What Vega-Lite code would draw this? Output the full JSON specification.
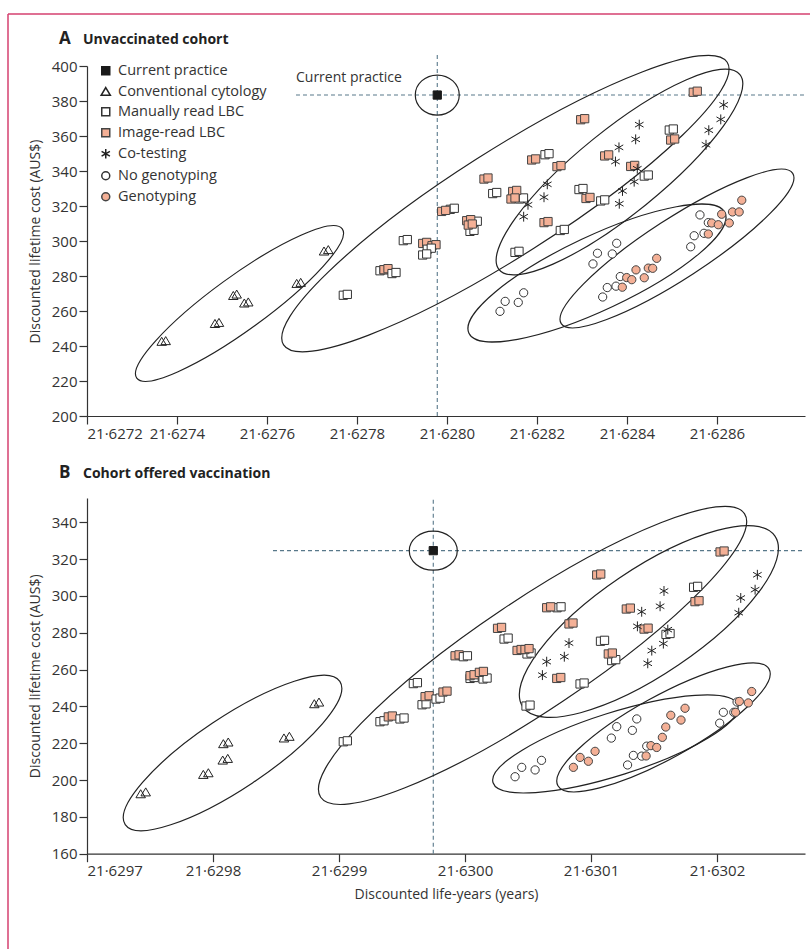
{
"$schema":"https://vega.github.io/schema/vega-lite/v6.json",
"padding":{"left":7,"top":13,"right":0,"bottom":0},
"bounds":"flush",
"spacing":82,
"config":{
"font":"Open Sans",
"view":{"stroke":null},
"axis":{"labelFont":"Open Sans","labelFontSize":15,"labelColor":"#333","titleFont":"Open Sans","titleFontSize":14,"titleFontWeight":"normal","titleColor":"#333","domainColor":"#333","tickColor":"#333","domainWidth":1.2,"tickWidth":1.2,"tickSize":8,"grid":false,"labelPadding":2}
},
"datasets":{
"ellA":[
{"g":"cp","x":21.6279784,"y":383.4},{"g":"cyt","x":21.6275389,"y":264.3},{"g":"lbc","x":21.6281298,"y":321.4},{"g":"cot","x":21.6283833,"y":339.4},{"g":"ng","x":21.6283333,"y":281.7},{"g":"gt","x":21.6285111,"y":295.7}],
"ellB":[
{"g":"cp","x":21.6299748,"y":324.6},{"g":"cyt","x":21.6298155,"y":214.7},{"g":"lbc","x":21.6300536,"y":267.7},{"g":"cot","x":21.6301459,"y":286.1},{"g":"ng","x":21.6301193,"y":219.6},{"g":"gt","x":21.6301575,"y":228.6}],
"labA":[{"label":"Current practice","x":21.6276644,"y":383.4}],
"ptsA":[
{"s":"Conventional cytology","x":21.627366,"y":242.5},{"s":"Conventional cytology","x":21.6273749,"y":242.9},
{"s":"Conventional cytology","x":21.6274844,"y":252.7},{"s":"Conventional cytology","x":21.6274933,"y":253.3},
{"s":"Conventional cytology","x":21.6275251,"y":268.7},{"s":"Conventional cytology","x":21.6275327,"y":269.5},
{"s":"Conventional cytology","x":21.6275496,"y":264.4},{"s":"Conventional cytology","x":21.6275584,"y":265.0},
{"s":"Conventional cytology","x":21.627666,"y":275.6},{"s":"Conventional cytology","x":21.6276749,"y":276.2},
{"s":"Conventional cytology","x":21.6277267,"y":294.1},{"s":"Conventional cytology","x":21.6277362,"y":294.9},
{"s":"Manually read LBC","x":21.6277696,"y":269.0},{"s":"Manually read LBC","x":21.6277785,"y":269.5},
{"s":"Manually read LBC","x":21.6278511,"y":283.0},{"s":"Manually read LBC","x":21.62786,"y":283.6},
{"s":"Image-read LBC","x":21.62786,"y":283.6},{"s":"Image-read LBC","x":21.6278689,"y":284.2},
{"s":"Manually read LBC","x":21.6278778,"y":281.4},{"s":"Manually read LBC","x":21.6278867,"y":282.0},
{"s":"Manually read LBC","x":21.6279029,"y":300.2},{"s":"Manually read LBC","x":21.6279118,"y":300.8},
{"s":"Image-read LBC","x":21.627946,"y":298.6},{"s":"Image-read LBC","x":21.6279549,"y":299.2},
{"s":"Image-read LBC","x":21.6279667,"y":297.3},{"s":"Image-read LBC","x":21.6279756,"y":297.9},
{"s":"Manually read LBC","x":21.6279562,"y":295.3},{"s":"Manually read LBC","x":21.6279651,"y":295.9},
{"s":"Manually read LBC","x":21.627946,"y":292.0},{"s":"Manually read LBC","x":21.6279549,"y":292.6},
{"s":"Manually read LBC","x":21.6280073,"y":318.1},{"s":"Manually read LBC","x":21.6280162,"y":318.7},
{"s":"Image-read LBC","x":21.6279882,"y":316.9},{"s":"Image-read LBC","x":21.6279971,"y":317.5},
{"s":"Manually read LBC","x":21.6280584,"y":310.7},{"s":"Manually read LBC","x":21.6280673,"y":311.3},
{"s":"Manually read LBC","x":21.6280511,"y":305.5},{"s":"Manually read LBC","x":21.62806,"y":306.1},
{"s":"Image-read LBC","x":21.6280438,"y":311.6},{"s":"Image-read LBC","x":21.6280527,"y":312.2},
{"s":"Image-read LBC","x":21.6280473,"y":309.1},{"s":"Image-read LBC","x":21.6280562,"y":309.7},
{"s":"Image-read LBC","x":21.6280822,"y":335.4},{"s":"Image-read LBC","x":21.6280911,"y":336.0},
{"s":"Manually read LBC","x":21.6281016,"y":327.1},{"s":"Manually read LBC","x":21.6281105,"y":327.7},
{"s":"Manually read LBC","x":21.6281611,"y":324.0},{"s":"Manually read LBC","x":21.62817,"y":324.6},
{"s":"Image-read LBC","x":21.628146,"y":328.3},{"s":"Image-read LBC","x":21.6281549,"y":328.9},
{"s":"Image-read LBC","x":21.6281422,"y":324.0},{"s":"Image-read LBC","x":21.6281511,"y":324.6},
{"s":"Manually read LBC","x":21.6282178,"y":349.3},{"s":"Manually read LBC","x":21.6282267,"y":349.9},
{"s":"Image-read LBC","x":21.6281882,"y":346.3},{"s":"Image-read LBC","x":21.6281971,"y":346.9},
{"s":"Image-read LBC","x":21.6282444,"y":342.5},{"s":"Image-read LBC","x":21.6282533,"y":343.1},
{"s":"Image-read LBC","x":21.6282971,"y":369.3},{"s":"Image-read LBC","x":21.628306,"y":369.9},
{"s":"Manually read LBC","x":21.6282933,"y":329.4},{"s":"Manually read LBC","x":21.6283022,"y":330.0},
{"s":"Image-read LBC","x":21.6283089,"y":324.3},{"s":"Image-read LBC","x":21.6283178,"y":324.9},
{"s":"Manually read LBC","x":21.6283416,"y":322.9},{"s":"Manually read LBC","x":21.6283505,"y":323.5},
{"s":"Image-read LBC","x":21.6282156,"y":310.5},{"s":"Image-read LBC","x":21.6282245,"y":311.1},
{"s":"Manually read LBC","x":21.6282518,"y":306.0},{"s":"Manually read LBC","x":21.6282607,"y":306.6},
{"s":"Manually read LBC","x":21.6281511,"y":293.5},{"s":"Manually read LBC","x":21.62816,"y":294.1},
{"s":"Image-read LBC","x":21.6283504,"y":348.6},{"s":"Image-read LBC","x":21.6283593,"y":349.2},
{"s":"Image-read LBC","x":21.6284082,"y":342.6},{"s":"Image-read LBC","x":21.6284171,"y":343.2},
{"s":"Manually read LBC","x":21.6284384,"y":337.1},{"s":"Manually read LBC","x":21.6284473,"y":337.7},
{"s":"Manually read LBC","x":21.628494,"y":363.4},{"s":"Manually read LBC","x":21.6285029,"y":364.0},
{"s":"Image-read LBC","x":21.6284971,"y":357.7},{"s":"Image-read LBC","x":21.628506,"y":358.3},
{"s":"Image-read LBC","x":21.6285473,"y":385.0},{"s":"Image-read LBC","x":21.6285562,"y":385.6},
{"s":"Co-testing","x":21.6284273,"y":366.5},{"s":"Co-testing","x":21.6284193,"y":358.1},
{"s":"Co-testing","x":21.6283822,"y":353.5},{"s":"Co-testing","x":21.6283744,"y":345.4},
{"s":"Co-testing","x":21.6284229,"y":341.3},{"s":"Co-testing","x":21.628416,"y":333.9},
{"s":"Co-testing","x":21.62839,"y":328.6},{"s":"Co-testing","x":21.6283829,"y":321.3},
{"s":"Co-testing","x":21.6282229,"y":332.4},{"s":"Co-testing","x":21.6282156,"y":325.0},
{"s":"Co-testing","x":21.62818,"y":320.7},{"s":"Co-testing","x":21.6281704,"y":313.9},
{"s":"Co-testing","x":21.6286149,"y":377.8},{"s":"Co-testing","x":21.6286084,"y":369.5},
{"s":"Co-testing","x":21.6285818,"y":363.3},{"s":"Co-testing","x":21.6285756,"y":355.0},
{"s":"No genotyping","x":21.6281178,"y":259.8},{"s":"No genotyping","x":21.6281293,"y":265.5},
{"s":"No genotyping","x":21.6281584,"y":264.9},{"s":"No genotyping","x":21.6281704,"y":270.4},
{"s":"No genotyping","x":21.6283244,"y":286.9},{"s":"No genotyping","x":21.6283344,"y":293.0},
{"s":"No genotyping","x":21.6283673,"y":292.6},{"s":"No genotyping","x":21.6283771,"y":298.7},
{"s":"No genotyping","x":21.628346,"y":268.0},{"s":"No genotyping","x":21.6283562,"y":273.4},
{"s":"No genotyping","x":21.6283756,"y":274.2},{"s":"No genotyping","x":21.6283851,"y":279.7},
{"s":"No genotyping","x":21.6285416,"y":296.7},{"s":"No genotyping","x":21.6285493,"y":303.0},
{"s":"No genotyping","x":21.6285711,"y":304.4},{"s":"No genotyping","x":21.6285807,"y":310.5},
{"s":"No genotyping","x":21.6285622,"y":314.9},
{"s":"Genotyping","x":21.6283896,"y":273.6},{"s":"Genotyping","x":21.6283993,"y":279.1},
{"s":"Genotyping","x":21.6284107,"y":277.9},{"s":"Genotyping","x":21.62842,"y":283.5},
{"s":"Genotyping","x":21.6284384,"y":279.0},{"s":"Genotyping","x":21.6284473,"y":284.5},
{"s":"Genotyping","x":21.6284571,"y":284.4},{"s":"Genotyping","x":21.628466,"y":290.1},
{"s":"Genotyping","x":21.6285807,"y":304.0},{"s":"Genotyping","x":21.6285882,"y":310.3},
{"s":"Genotyping","x":21.6286029,"y":309.3},{"s":"Genotyping","x":21.6286104,"y":315.3},
{"s":"Genotyping","x":21.6286273,"y":310.3},{"s":"Genotyping","x":21.6286344,"y":316.6},
{"s":"Genotyping","x":21.6286493,"y":316.6},{"s":"Genotyping","x":21.6286551,"y":323.3},
{"s":"Current practice","x":21.6279784,"y":383.4}
],
"ptsB":[
{"s":"Conventional cytology","x":21.6297426,"y":192.4},{"s":"Conventional cytology","x":21.6297466,"y":193.4},
{"s":"Conventional cytology","x":21.6297923,"y":202.9},{"s":"Conventional cytology","x":21.6297963,"y":203.8},
{"s":"Conventional cytology","x":21.6298077,"y":210.7},{"s":"Conventional cytology","x":21.6298117,"y":211.6},
{"s":"Conventional cytology","x":21.6298082,"y":219.6},{"s":"Conventional cytology","x":21.6298121,"y":220.5},
{"s":"Conventional cytology","x":21.6298563,"y":222.7},{"s":"Conventional cytology","x":21.6298606,"y":223.6},
{"s":"Conventional cytology","x":21.6298804,"y":241.3},{"s":"Conventional cytology","x":21.6298841,"y":242.2},
{"s":"Manually read LBC","x":21.6299034,"y":220.8},{"s":"Manually read LBC","x":21.6299066,"y":221.3},
{"s":"Manually read LBC","x":21.6299325,"y":231.7},{"s":"Manually read LBC","x":21.6299357,"y":232.2},
{"s":"Image-read LBC","x":21.6299391,"y":234.3},{"s":"Image-read LBC","x":21.6299423,"y":234.8},
{"s":"Manually read LBC","x":21.6299484,"y":233.2},{"s":"Manually read LBC","x":21.6299516,"y":233.7},
{"s":"Manually read LBC","x":21.629959,"y":252.4},{"s":"Manually read LBC","x":21.6299622,"y":252.9},
{"s":"Manually read LBC","x":21.6299659,"y":240.9},{"s":"Manually read LBC","x":21.6299691,"y":241.4},
{"s":"Image-read LBC","x":21.6299683,"y":245.3},{"s":"Image-read LBC","x":21.6299715,"y":245.8},
{"s":"Manually read LBC","x":21.629977,"y":244.0},{"s":"Manually read LBC","x":21.6299802,"y":244.5},
{"s":"Image-read LBC","x":21.6299825,"y":247.8},{"s":"Image-read LBC","x":21.6299857,"y":248.3},
{"s":"Image-read LBC","x":21.6299921,"y":267.5},{"s":"Image-read LBC","x":21.6299953,"y":268.0},
{"s":"Manually read LBC","x":21.6299987,"y":267.0},{"s":"Manually read LBC","x":21.6300019,"y":267.5},
{"s":"Manually read LBC","x":21.630004,"y":255.2},{"s":"Manually read LBC","x":21.6300072,"y":255.7},
{"s":"Manually read LBC","x":21.6300143,"y":254.9},{"s":"Manually read LBC","x":21.6300175,"y":255.4},
{"s":"Image-read LBC","x":21.630004,"y":256.7},{"s":"Image-read LBC","x":21.6300072,"y":257.2},
{"s":"Image-read LBC","x":21.6300114,"y":258.5},{"s":"Image-read LBC","x":21.6300146,"y":259.0},
{"s":"Manually read LBC","x":21.630031,"y":276.6},{"s":"Manually read LBC","x":21.6300342,"y":277.1},
{"s":"Image-read LBC","x":21.6300258,"y":282.4},{"s":"Image-read LBC","x":21.630029,"y":282.9},
{"s":"Manually read LBC","x":21.6300492,"y":268.5},{"s":"Manually read LBC","x":21.6300524,"y":269.0},
{"s":"Image-read LBC","x":21.6300413,"y":270.4},{"s":"Image-read LBC","x":21.6300445,"y":270.9},
{"s":"Image-read LBC","x":21.6300476,"y":270.9},{"s":"Image-read LBC","x":21.6300508,"y":271.4},
{"s":"Manually read LBC","x":21.630073,"y":293.6},{"s":"Manually read LBC","x":21.6300762,"y":294.1},
{"s":"Image-read LBC","x":21.6300648,"y":293.6},{"s":"Image-read LBC","x":21.630068,"y":294.1},
{"s":"Image-read LBC","x":21.6300825,"y":284.8},{"s":"Image-read LBC","x":21.6300857,"y":285.3},
{"s":"Image-read LBC","x":21.6300728,"y":255.2},{"s":"Image-read LBC","x":21.630076,"y":255.7},
{"s":"Manually read LBC","x":21.6300484,"y":240.2},{"s":"Manually read LBC","x":21.6300516,"y":240.7},
{"s":"Manually read LBC","x":21.6300913,"y":252.2},{"s":"Manually read LBC","x":21.6300945,"y":252.7},
{"s":"Image-read LBC","x":21.6301045,"y":311.4},{"s":"Image-read LBC","x":21.6301077,"y":311.9},
{"s":"Image-read LBC","x":21.630128,"y":292.9},{"s":"Image-read LBC","x":21.6301312,"y":293.4},
{"s":"Image-read LBC","x":21.6301421,"y":282.0},{"s":"Image-read LBC","x":21.6301453,"y":282.5},
{"s":"Manually read LBC","x":21.6301075,"y":275.4},{"s":"Manually read LBC","x":21.6301107,"y":275.9},
{"s":"Manually read LBC","x":21.6301164,"y":264.9},{"s":"Manually read LBC","x":21.6301196,"y":265.4},
{"s":"Image-read LBC","x":21.6301137,"y":268.5},{"s":"Image-read LBC","x":21.6301169,"y":269.0},
{"s":"Manually read LBC","x":21.6301814,"y":304.7},{"s":"Manually read LBC","x":21.6301846,"y":305.2},
{"s":"Image-read LBC","x":21.6301825,"y":296.9},{"s":"Image-read LBC","x":21.6301857,"y":297.4},
{"s":"Manually read LBC","x":21.6301595,"y":279.1},{"s":"Manually read LBC","x":21.6301627,"y":279.6},
{"s":"Image-read LBC","x":21.6302024,"y":323.9},{"s":"Image-read LBC","x":21.6302056,"y":324.4},
{"s":"Co-testing","x":21.6300825,"y":274.4},{"s":"Co-testing","x":21.6300788,"y":267.0},
{"s":"Co-testing","x":21.6300648,"y":264.3},{"s":"Co-testing","x":21.6300614,"y":257.0},
{"s":"Co-testing","x":21.6301402,"y":291.4},{"s":"Co-testing","x":21.6301368,"y":283.5},
{"s":"Co-testing","x":21.6301579,"y":302.7},{"s":"Co-testing","x":21.6301548,"y":294.4},
{"s":"Co-testing","x":21.6301609,"y":281.7},{"s":"Co-testing","x":21.6301574,"y":274.1},
{"s":"Co-testing","x":21.6301482,"y":270.3},{"s":"Co-testing","x":21.630145,"y":263.4},
{"s":"Co-testing","x":21.630232,"y":311.5},{"s":"Co-testing","x":21.6302302,"y":303.4},
{"s":"Co-testing","x":21.6302188,"y":298.9},{"s":"Co-testing","x":21.6302172,"y":290.9},
{"s":"No genotyping","x":21.6300397,"y":201.8},{"s":"No genotyping","x":21.630045,"y":206.9},
{"s":"No genotyping","x":21.6300556,"y":205.5},{"s":"No genotyping","x":21.6300607,"y":210.7},
{"s":"No genotyping","x":21.6301161,"y":222.8},{"s":"No genotyping","x":21.6301204,"y":229.0},
{"s":"No genotyping","x":21.6301328,"y":227.0},{"s":"No genotyping","x":21.6301363,"y":233.2},
{"s":"No genotyping","x":21.630129,"y":208.2},{"s":"No genotyping","x":21.6301336,"y":213.4},
{"s":"No genotyping","x":21.6301402,"y":213.0},{"s":"No genotyping","x":21.6301442,"y":218.4},
{"s":"No genotyping","x":21.6302021,"y":230.9},{"s":"No genotyping","x":21.630205,"y":236.8},
{"s":"No genotyping","x":21.6302133,"y":236.8},{"s":"No genotyping","x":21.6302159,"y":242.4},
{"s":"Genotyping","x":21.630086,"y":206.9},{"s":"Genotyping","x":21.6300913,"y":212.3},
{"s":"Genotyping","x":21.6300979,"y":210.2},{"s":"Genotyping","x":21.6301032,"y":215.6},
{"s":"Genotyping","x":21.6301437,"y":213.1},{"s":"Genotyping","x":21.6301475,"y":218.7},
{"s":"Genotyping","x":21.6301521,"y":217.7},{"s":"Genotyping","x":21.6301566,"y":223.2},
{"s":"Genotyping","x":21.6301593,"y":228.8},{"s":"Genotyping","x":21.6301633,"y":235.2},
{"s":"Genotyping","x":21.6301714,"y":232.6},{"s":"Genotyping","x":21.6301746,"y":239.0},
{"s":"Genotyping","x":21.6302147,"y":236.8},{"s":"Genotyping","x":21.6302177,"y":242.7},
{"s":"Genotyping","x":21.6302248,"y":241.9},{"s":"Genotyping","x":21.6302275,"y":248.1},
{"s":"Current practice","x":21.6299748,"y":324.6}
]
},
"vconcat":[
{
"width":718,"height":350,
"layer":[
{"data":{"values":[{}]},"mark":{"type":"rule","color":"#d4416f","strokeWidth":1.5},
"encoding":{"x":{"datum":21.62702444,"type":"quantitative","scale":{"domain":[21.6272,21.6287956]},"axis":{"title":null,"values":[21.6272,21.6274,21.6276,21.6278,21.628,21.6282,21.6284,21.6286],"labelExpr":"replace(format(datum.value,'.4f'),'.','·')"}},"y":{"datum":429.71,"type":"quantitative","scale":{"domain":[200,400]},"axis":{"title":"Discounted lifetime cost (AUS$)","titlePadding":9,"values":[200,220,240,260,280,300,320,340,360,380,400]}},"y2":{"datum":-104.57}}},
{"data":{"values":[{}]},"mark":{"type":"rule","color":"#d4416f","strokeWidth":1.5},
"encoding":{"x":{"datum":21.62702444,"type":"quantitative","scale":{"domain":[21.6272,21.6287956]},"axis":{"title":null,"values":[21.6272,21.6274,21.6276,21.6278,21.628,21.6282,21.6284,21.6286],"labelExpr":"replace(format(datum.value,'.4f'),'.','·')"}},"x2":{"datum":21.62880667},"y":{"datum":429.71,"type":"quantitative","scale":{"domain":[200,400]},"axis":{"title":"Discounted lifetime cost (AUS$)","titlePadding":9,"values":[200,220,240,260,280,300,320,340,360,380,400]}}}},
{"data":{"values":[{}]},"mark":{"type":"rule","color":"#58788a","strokeWidth":1.1,"strokeDash":[4,3]},
"encoding":{"x":{"datum":21.6279784,"type":"quantitative","scale":{"domain":[21.6272,21.6287956]},"axis":{"title":null,"values":[21.6272,21.6274,21.6276,21.6278,21.628,21.6282,21.6284,21.6286],"labelExpr":"replace(format(datum.value,'.4f'),'.','·')"}},"y":{"datum":200,"type":"quantitative","scale":{"domain":[200,400]},"axis":{"title":"Discounted lifetime cost (AUS$)","titlePadding":9,"values":[200,220,240,260,280,300,320,340,360,380,400]}},"y2":{"datum":406.9}}},
{"data":{"values":[{}]},"mark":{"type":"rule","color":"#58788a","strokeWidth":1.1,"strokeDash":[4,3]},
"encoding":{"x":{"datum":21.6276644,"type":"quantitative","scale":{"domain":[21.6272,21.6287956]},"axis":{"title":null,"values":[21.6272,21.6274,21.6276,21.6278,21.628,21.6282,21.6284,21.6286],"labelExpr":"replace(format(datum.value,'.4f'),'.','·')"}},"x2":{"datum":21.6287956},"y":{"datum":383.4,"type":"quantitative","scale":{"domain":[200,400]},"axis":{"title":"Discounted lifetime cost (AUS$)","titlePadding":9,"values":[200,220,240,260,280,300,320,340,360,380,400]}}}},
{"data":{"values":[{}]},"mark":{"type":"text","text":"A","align":"left","baseline":"alphabetic","fontSize":17,"fontWeight":"bold","font":"Open Sans","color":"#222"},
"encoding":{"x":{"datum":21.62713778,"type":"quantitative","scale":{"domain":[21.6272,21.6287956]},"axis":{"title":null,"values":[21.6272,21.6274,21.6276,21.6278,21.628,21.6282,21.6284,21.6286],"labelExpr":"replace(format(datum.value,'.4f'),'.','·')"}},"y":{"datum":412.57,"type":"quantitative","scale":{"domain":[200,400]},"axis":{"title":"Discounted lifetime cost (AUS$)","titlePadding":9,"values":[200,220,240,260,280,300,320,340,360,380,400]}}}},
{"data":{"values":[{}]},"mark":{"type":"text","text":"Unvaccinated cohort","align":"left","baseline":"alphabetic","fontSize":14,"fontWeight":"bold","font":"Open Sans","color":"#222"},
"encoding":{"x":{"datum":21.62719111,"type":"quantitative","scale":{"domain":[21.6272,21.6287956]},"axis":{"title":null,"values":[21.6272,21.6274,21.6276,21.6278,21.628,21.6282,21.6284,21.6286],"labelExpr":"replace(format(datum.value,'.4f'),'.','·')"}},"y":{"datum":412.57,"type":"quantitative","scale":{"domain":[200,400]},"axis":{"title":"Discounted lifetime cost (AUS$)","titlePadding":9,"values":[200,220,240,260,280,300,320,340,360,380,400]}}}},
{
"encoding":{
"x":{"field":"x","type":"quantitative","scale":{"domain":[21.6272,21.6287956]},"axis":{"title":null,"values":[21.6272,21.6274,21.6276,21.6278,21.628,21.6282,21.6284,21.6286],"labelExpr":"replace(format(datum.value,'.4f'),'.','·')"}},
"y":{"field":"y","type":"quantitative","scale":{"domain":[200,400]},"axis":{"title":"Discounted lifetime cost (AUS$)","titlePadding":9,"values":[200,220,240,260,280,300,320,340,360,380,400]}}
},
"layer":[
{"data":{"name":"labA"},"mark":{"type":"text","align":"left","baseline":"alphabetic","dy":-13,"fontSize":14,"font":"Open Sans","color":"#333"},
"encoding":{"text":{"field":"label"}}},
{"data":{"name":"ellA"},"transform":[{"filter":"datum.g=='cp'"}],"mark":{"type":"point","shape":"M1,0C1,0.502 0.5523,0.909 0,0.909C-0.5523,0.909 -1,0.502 -1,0C-1,-0.502 -0.5523,-0.909 0,-0.909C0.5523,-0.909 1,-0.502 1,0Z","size":1936,"angle":0,"filled":false,"stroke":"#222","strokeWidth":1.2,"opacity":1}},
{"data":{"name":"ellA"},"transform":[{"filter":"datum.g=='cyt'"}],"mark":{"type":"point","shape":"M1,0C1,0.1174 0.5523,0.2126 0,0.2126C-0.5523,0.2126 -1,0.1174 -1,0C-1,-0.1174 -0.5523,-0.2126 0,-0.2126C0.5523,-0.2126 1,-0.1174 1,0Z","size":64516,"angle":324,"filled":false,"stroke":"#222","strokeWidth":1.2,"opacity":1}},
{"data":{"name":"ellA"},"transform":[{"filter":"datum.g=='lbc'"}],"mark":{"type":"point","shape":"M1,0C1,0.1113 0.5523,0.2015 0,0.2015C-0.5523,0.2015 -1,0.1113 -1,0C-1,-0.1113 -0.5523,-0.2015 0,-0.2015C0.5523,-0.2015 1,-0.1113 1,0Z","size":276676,"angle":327.5,"filled":false,"stroke":"#222","strokeWidth":1.2,"opacity":1}},
{"data":{"name":"ellA"},"transform":[{"filter":"datum.g=='cot'"}],"mark":{"type":"point","shape":"M1,0C1,0.1497 0.5523,0.271 0,0.271C-0.5523,0.271 -1,0.1497 -1,0C-1,-0.1497 -0.5523,-0.271 0,-0.271C0.5523,-0.271 1,-0.1497 1,0Z","size":96100,"angle":321,"filled":false,"stroke":"#222","strokeWidth":1.2,"opacity":1}},
{"data":{"name":"ellA"},"transform":[{"filter":"datum.g=='ng'"}],"mark":{"type":"point","shape":"M1,0C1,0.1444 0.5523,0.2615 0,0.2615C-0.5523,0.2615 -1,0.1444 -1,0C-1,-0.1444 -0.5523,-0.2615 0,-0.2615C0.5523,-0.2615 1,-0.1444 1,0Z","size":80089,"angle":334.8,"filled":false,"stroke":"#222","strokeWidth":1.2,"opacity":1}},
{"data":{"name":"ellA"},"transform":[{"filter":"datum.g=='gt'"}],"mark":{"type":"point","shape":"M1,0C1,0.12 0.5523,0.2174 0,0.2174C-0.5523,0.2174 -1,0.12 -1,0C-1,-0.12 -0.5523,-0.2174 0,-0.2174C0.5523,-0.2174 1,-0.12 1,0Z","size":76176,"angle":327,"filled":false,"stroke":"#222","strokeWidth":1.2,"opacity":1}},
{"data":{"name":"ptsA"},"mark":{"type":"point","filled":true,"opacity":1,"strokeWidth":1,"size":68},
"encoding":{
"shape":{"field":"s","type":"nominal","scale":{"domain":["Current practice","Conventional cytology","Manually read LBC","Image-read LBC","Co-testing","No genotyping","Genotyping"],"range":["square","M0,-1.05L1.15,0.9L-1.15,0.9Z","square","square","M0,-1.2L0,1.2M-1.04,-0.6L1.04,0.6M-1.04,0.6L1.04,-0.6","circle","circle"]},"legend":{"title":null,"orient":"none","legendX":11.5,"legendY":-2.5,"labelFont":"Open Sans","labelFontSize":14.5,"labelColor":"#333","symbolSize":64,"rowPadding":5,"labelOffset":5,"padding":0}},
"fill":{"field":"s","type":"nominal","scale":{"domain":["Current practice","Conventional cytology","Manually read LBC","Image-read LBC","Co-testing","No genotyping","Genotyping"],"range":["#1a1a1a","transparent","#ffffff","#f4b096","transparent","#ffffff","#f4b096"]},"legend":{"title":null,"orient":"none","legendX":11.5,"legendY":-2.5,"labelFont":"Open Sans","labelFontSize":14.5,"labelColor":"#333","symbolSize":64,"rowPadding":5,"labelOffset":5,"padding":0}},
"stroke":{"field":"s","type":"nominal","scale":{"domain":["Current practice","Conventional cytology","Manually read LBC","Image-read LBC","Co-testing","No genotyping","Genotyping"],"range":["#1a1a1a","#222222","#333333","#444444","#222222","#333333","#444444"]},"legend":{"title":null,"orient":"none","legendX":11.5,"legendY":-2.5,"labelFont":"Open Sans","labelFontSize":14.5,"labelColor":"#333","symbolSize":64,"rowPadding":5,"labelOffset":5,"padding":0}}
}}
]}
]
},
{
"width":718,"height":355.7,
"layer":[
{"data":{"values":[{}]},"mark":{"type":"rule","color":"#58788a","strokeWidth":1.1,"strokeDash":[4,3]},
"encoding":{"x":{"datum":21.6299748,"type":"quantitative","scale":{"domain":[21.6297,21.6302698]},"axis":{"title":"Discounted life-years (years)","titlePadding":9,"values":[21.6297,21.6298,21.6299,21.63,21.6301,21.6302],"labelExpr":"replace(format(datum.value,'.4f'),'.','·')"}},"y":{"datum":160,"type":"quantitative","scale":{"domain":[160,353.2]},"axis":{"title":"Discounted lifetime cost (AUS$)","titlePadding":9,"values":[160,180,200,220,240,260,280,300,320,340]}},"y2":{"datum":353.2}}},
{"data":{"values":[{}]},"mark":{"type":"rule","color":"#58788a","strokeWidth":1.1,"strokeDash":[4,3]},
"encoding":{"x":{"datum":21.6298476,"type":"quantitative","scale":{"domain":[21.6297,21.6302698]},"axis":{"title":"Discounted life-years (years)","titlePadding":9,"values":[21.6297,21.6298,21.6299,21.63,21.6301,21.6302],"labelExpr":"replace(format(datum.value,'.4f'),'.','·')"}},"x2":{"datum":21.6302698},"y":{"datum":324.6,"type":"quantitative","scale":{"domain":[160,353.2]},"axis":{"title":"Discounted lifetime cost (AUS$)","titlePadding":9,"values":[160,180,200,220,240,260,280,300,320,340]}}}},
{"data":{"values":[{}]},"mark":{"type":"text","text":"B","align":"left","baseline":"alphabetic","fontSize":17,"fontWeight":"bold","font":"Open Sans","color":"#222"},
"encoding":{"x":{"datum":21.62967778,"type":"quantitative","scale":{"domain":[21.6297,21.6302698]},"axis":{"title":"Discounted life-years (years)","titlePadding":9,"values":[21.6297,21.6298,21.6299,21.63,21.6301,21.6302],"labelExpr":"replace(format(datum.value,'.4f'),'.','·')"}},"y":{"datum":364.07,"type":"quantitative","scale":{"domain":[160,353.2]},"axis":{"title":"Discounted lifetime cost (AUS$)","titlePadding":9,"values":[160,180,200,220,240,260,280,300,320,340]}}}},
{"data":{"values":[{}]},"mark":{"type":"text","text":"Cohort offered vaccination","align":"left","baseline":"alphabetic","fontSize":14,"fontWeight":"bold","font":"Open Sans","color":"#222"},
"encoding":{"x":{"datum":21.62969683,"type":"quantitative","scale":{"domain":[21.6297,21.6302698]},"axis":{"title":"Discounted life-years (years)","titlePadding":9,"values":[21.6297,21.6298,21.6299,21.63,21.6301,21.6302],"labelExpr":"replace(format(datum.value,'.4f'),'.','·')"}},"y":{"datum":364.07,"type":"quantitative","scale":{"domain":[160,353.2]},"axis":{"title":"Discounted lifetime cost (AUS$)","titlePadding":9,"values":[160,180,200,220,240,260,280,300,320,340]}}}},
{
"encoding":{
"x":{"field":"x","type":"quantitative","scale":{"domain":[21.6297,21.6302698]},"axis":{"title":"Discounted life-years (years)","titlePadding":9,"values":[21.6297,21.6298,21.6299,21.63,21.6301,21.6302],"labelExpr":"replace(format(datum.value,'.4f'),'.','·')"}},
"y":{"field":"y","type":"quantitative","scale":{"domain":[160,353.2]},"axis":{"title":"Discounted lifetime cost (AUS$)","titlePadding":9,"values":[160,180,200,220,240,260,280,300,320,340]}}
},
"layer":[
{"data":{"name":"ellB"},"transform":[{"filter":"datum.g=='cp'"}],"mark":{"type":"point","shape":"M1,0C1,0.4487 0.5523,0.8125 0,0.8125C-0.5523,0.8125 -1,0.4487 -1,0C-1,-0.4487 -0.5523,-0.8125 0,-0.8125C0.5523,-0.8125 1,-0.4487 1,0Z","size":2304,"angle":0,"filled":false,"stroke":"#222","strokeWidth":1.2,"opacity":1}},
{"data":{"name":"ellB"},"transform":[{"filter":"datum.g=='cyt'"}],"mark":{"type":"point","shape":"M1,0C1,0.1541 0.5523,0.279 0,0.279C-0.5523,0.279 -1,0.1541 -1,0C-1,-0.1541 -0.5523,-0.279 0,-0.279C0.5523,-0.279 1,-0.1541 1,0Z","size":66564,"angle":326.3,"filled":false,"stroke":"#222","strokeWidth":1.2,"opacity":1}},
{"data":{"name":"ellB"},"transform":[{"filter":"datum.g=='lbc'"}],"mark":{"type":"point","shape":"M1,0C1,0.1191 0.5523,0.2157 0,0.2157C-0.5523,0.2157 -1,0.1191 -1,0C-1,-0.1191 -0.5523,-0.2157 0,-0.2157C0.5523,-0.2157 1,-0.1191 1,0Z","size":260100,"angle":326.2,"filled":false,"stroke":"#222","strokeWidth":1.2,"opacity":1}},
{"data":{"name":"ellB"},"transform":[{"filter":"datum.g=='cot'"}],"mark":{"type":"point","shape":"M1,0C1,0.1908 0.5523,0.3454 0,0.3454C-0.5523,0.3454 -1,0.1908 -1,0C-1,-0.1908 -0.5523,-0.3454 0,-0.3454C0.5523,-0.3454 1,-0.1908 1,0Z","size":92781,"angle":325.9,"filled":false,"stroke":"#222","strokeWidth":1.2,"opacity":1}},
{"data":{"name":"ellB"},"transform":[{"filter":"datum.g=='ng'"}],"mark":{"type":"point","shape":"M1,0C1,0.1352 0.5523,0.2447 0,0.2447C-0.5523,0.2447 -1,0.1352 -1,0C-1,-0.1352 -0.5523,-0.2447 0,-0.2447C0.5523,-0.2447 1,-0.1352 1,0Z","size":65844,"angle":342.4,"filled":false,"stroke":"#222","strokeWidth":1.2,"opacity":1}},
{"data":{"name":"ellB"},"transform":[{"filter":"datum.g=='gt'"}],"mark":{"type":"point","shape":"M1,0C1,0.1429 0.5523,0.2587 0,0.2587C-0.5523,0.2587 -1,0.1429 -1,0C-1,-0.1429 -0.5523,-0.2587 0,-0.2587C0.5523,-0.2587 1,-0.1429 1,0Z","size":58177,"angle":331.1,"filled":false,"stroke":"#222","strokeWidth":1.2,"opacity":1}},
{"data":{"name":"ptsB"},"mark":{"type":"point","filled":true,"opacity":1,"strokeWidth":1,"size":68},
"encoding":{
"shape":{"field":"s","type":"nominal","scale":{"domain":["Current practice","Conventional cytology","Manually read LBC","Image-read LBC","Co-testing","No genotyping","Genotyping"],"range":["square","M0,-1.05L1.15,0.9L-1.15,0.9Z","square","square","M0,-1.2L0,1.2M-1.04,-0.6L1.04,0.6M-1.04,0.6L1.04,-0.6","circle","circle"]},"legend":null},
"fill":{"field":"s","type":"nominal","scale":{"domain":["Current practice","Conventional cytology","Manually read LBC","Image-read LBC","Co-testing","No genotyping","Genotyping"],"range":["#1a1a1a","transparent","#ffffff","#f4b096","transparent","#ffffff","#f4b096"]},"legend":null},
"stroke":{"field":"s","type":"nominal","scale":{"domain":["Current practice","Conventional cytology","Manually read LBC","Image-read LBC","Co-testing","No genotyping","Genotyping"],"range":["#1a1a1a","#222222","#333333","#444444","#222222","#333333","#444444"]},"legend":null}
}}
]}
]
}
]
}
